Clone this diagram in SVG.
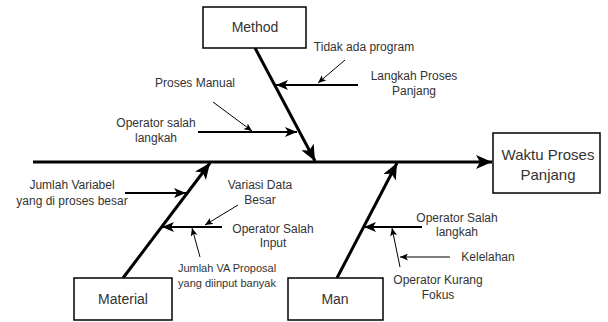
<svg xmlns="http://www.w3.org/2000/svg" width="608" height="322" viewBox="0 0 608 322">
<style>
.box{fill:#fff;stroke:#000;stroke-width:1.5}
.t{font-family:"Liberation Sans",Arial,sans-serif;font-size:12px;fill:#333;text-anchor:middle}
.bt{font-family:"Liberation Sans",Arial,sans-serif;font-size:14px;fill:#333;text-anchor:middle}
.sm{font-size:11px}
.spine{stroke:#000;stroke-width:3;fill:none;marker-end:url(#big)}
.cause{stroke:#000;stroke-width:2;fill:none;marker-end:url(#mid)}
.note{stroke:#000;stroke-width:1;fill:none;marker-end:url(#small)}
</style>
<defs>
<marker id="big" markerUnits="userSpaceOnUse" markerWidth="16" markerHeight="14" viewBox="0 0 16 14" refX="16" refY="7" orient="auto"><path d="M0,0 L16,7 L0,14 L4,7 z" fill="#000"/></marker>
<marker id="mid" markerUnits="userSpaceOnUse" markerWidth="12" markerHeight="10" viewBox="0 0 12 10" refX="12" refY="5" orient="auto"><path d="M0,0 L12,5 L0,10 L3,5 z" fill="#000"/></marker>
<marker id="small" markerUnits="userSpaceOnUse" markerWidth="8" markerHeight="7" viewBox="0 0 8 7" refX="8" refY="3.5" orient="auto"><path d="M0,0 L8,3.5 L0,7 L2,3.5 z" fill="#000"/></marker>
</defs>
<g id="connectors">
<line class="spine" x1="33" y1="162" x2="492" y2="162"/>
<line class="spine" x1="255" y1="48" x2="315" y2="161"/>
<line class="spine" x1="123" y1="278" x2="210" y2="163"/>
<line class="spine" x1="337" y1="278" x2="397" y2="163"/>
<line class="cause" x1="358" y1="85" x2="276" y2="85"/>
<line class="cause" x1="198" y1="132" x2="297" y2="132"/>
<line class="cause" x1="125" y1="193" x2="186" y2="193"/>
<line class="cause" x1="222" y1="227" x2="162" y2="227"/>
<line class="cause" x1="422" y1="227" x2="364" y2="227"/>
<line class="note" x1="345" y1="60" x2="318" y2="83"/>
<line class="note" x1="213" y1="102" x2="252" y2="131"/>
<line class="note" x1="238" y1="205" x2="205" y2="225"/>
<line class="note" x1="200" y1="257" x2="192" y2="228"/>
<line class="note" x1="450" y1="257" x2="400" y2="257"/>
<line class="note" x1="400" y1="267" x2="392" y2="228"/>
</g>
<g id="method"><rect class="box" x="203" y="7" width="103" height="41"/><text class="bt" x="255" y="32">Method</text></g>
<g id="material"><rect class="box" x="74" y="278" width="98" height="42"/><text class="bt" x="123" y="304">Material</text></g>
<g id="man"><rect class="box" x="288" y="278" width="95" height="42"/><text class="bt" x="335" y="304">Man</text></g>
<g id="effect"><rect class="box" x="493" y="133" width="107" height="60"/><text class="bt" style="font-size:15px" x="548" y="160">Waktu Proses</text><text class="bt" style="font-size:15px" x="548" y="180">Panjang</text></g>
<g id="labels">
<text class="t" x="364" y="51">Tidak ada program</text>
<text class="t" x="414" y="80">Langkah Proses</text><text class="t" x="414" y="95">Panjang</text>
<text class="t" x="195" y="87">Proses Manual</text>
<text class="t" x="156" y="127">Operator salah</text><text class="t" x="156" y="142">langkah</text>
<text class="t" x="72" y="189">Jumlah Variabel</text><text class="t" x="72" y="205">yang di proses besar</text>
<text class="t" x="260" y="189">Variasi Data</text><text class="t" x="260" y="204">Besar</text>
<text class="t" x="273" y="233">Operator Salah</text><text class="t" x="273" y="247">Input</text>
<text class="t sm" x="227" y="272">Jumlah VA Proposal</text><text class="t sm" x="227" y="287">yang diinput banyak</text>
<text class="t" x="457" y="222">Operator Salah</text><text class="t" x="457" y="236">langkah</text>
<text class="t" x="488" y="261">Kelelahan</text>
<text class="t" x="438" y="284">Operator Kurang</text><text class="t" x="438" y="299">Fokus</text>
</g>
</svg>
